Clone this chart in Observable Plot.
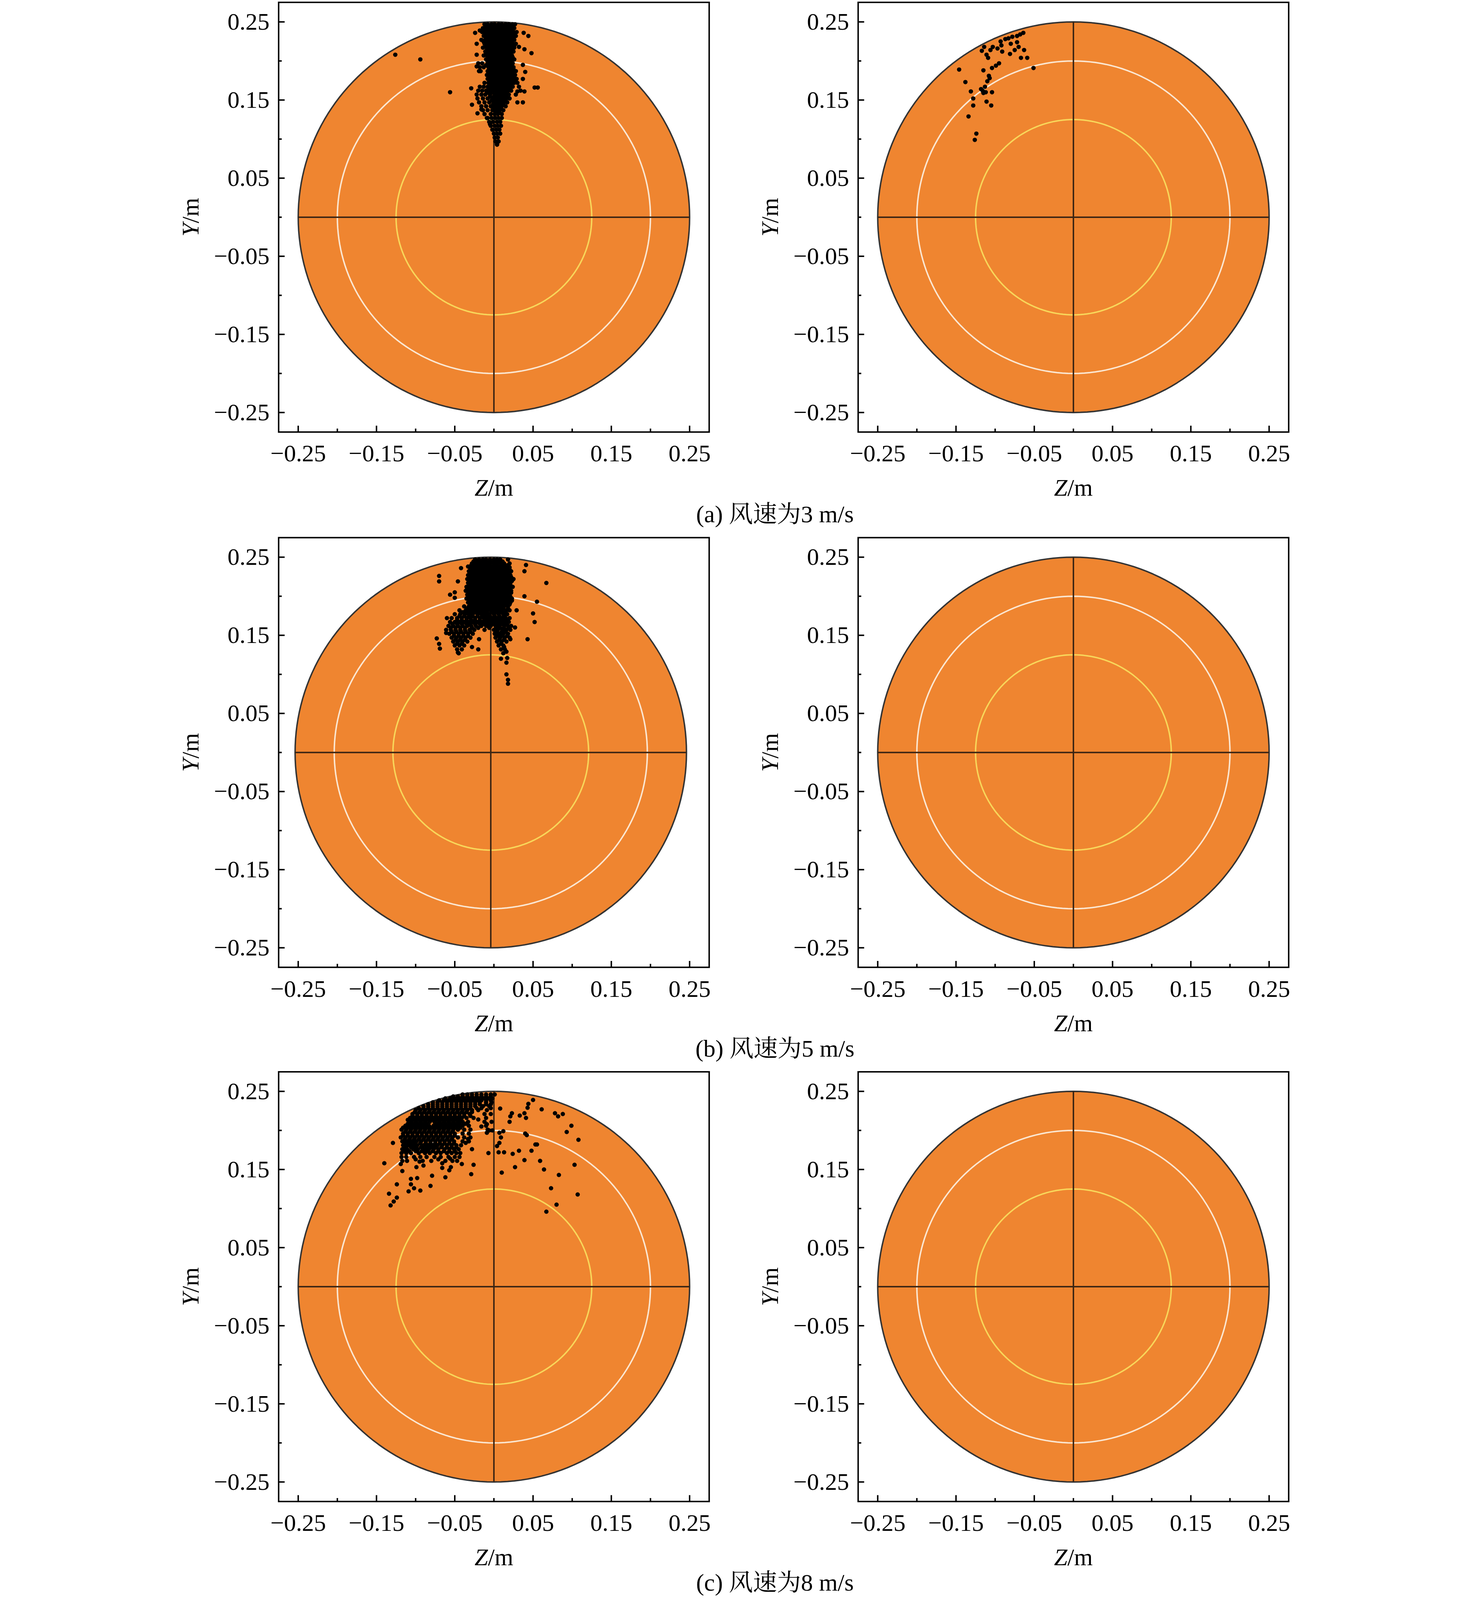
<!DOCTYPE html>
<html><head><meta charset="utf-8">
<script src="https://cdn.jsdelivr.net/npm/d3@7"></script>
<script src="https://cdn.jsdelivr.net/npm/@observablehq/plot@0.6"></script>
<style>
html,body{margin:0;padding:0;background:#fff;overflow:hidden;}
#page{position:absolute;left:0;top:0;width:3780px;height:4394px;transform-origin:50% 0;font-family:"Liberation Serif","Times New Roman",serif;}
.panel{position:absolute;}
.cap{position:absolute;font-size:66px;white-space:nowrap;transform:translate(-50%,-50%);z-index:5;font-family:"Liberation Serif","Noto Serif CJK SC","Noto Sans CJK SC",serif;color:#000;}
</style></head><body>
<div id="page"></div>
<script>
// ---- axes / rings / captions ----
const majorTicks = [-0.25,-0.15,-0.05,0.05,0.15,0.25];
const minorTicks = [-0.2,-0.1,0,0.1,0.2];
const ringRadii = [0.25, 0.2, 0.125];
const captions = ["(a) 风速为3 m/s","(b) 风速为5 m/s","(c) 风速为8 m/s"];
const centerZ = [0, 0, -0.004, 0, 0, 0];

// ---- (a) 3 m/s, left: scattered points [Z, Y] ----
const a1Scatter = [[-0.126,0.208],[-0.094,0.202],[-0.056,0.160],[0.038,0.236],[0.044,0.232],[-0.022,0.222],[0.032,0.218],[0.039,0.215],[0.048,0.210],[-0.022,0.208],[-0.024,0.236],[-0.018,0.239],[0.037,0.195],[0.040,0.186],[0.037,0.177],[0.052,0.166],[0.056,0.166],[-0.029,0.165],[0.030,0.147],[0.037,0.147],[-0.028,0.144],[-0.019,0.187],[-0.022,0.193],[0.030,0.161],[0.039,0.161],[-0.021,0.133],[-0.016,0.138],[-0.008,0.127],[-0.005,0.119],[0.004,0.093]];
// dense core, rows of [Y, [Z...]]
const a1Rows = [
[0.247,[-0.012,-0.008,-0.003,0.001,0.006,0.010,0.015,0.019,0.024,0.027]],
[0.2445,[-0.010,-0.006,-0.001,0.003,0.008,0.012,0.017,0.021,0.025]],
[0.242,[-0.014,-0.010,-0.005,-0.001,0.004,0.008,0.013,0.017,0.022,0.026]],
[0.2395,[-0.012,-0.008,-0.003,0.001,0.006,0.010,0.015,0.019,0.024]],
[0.237,[-0.015,-0.011,-0.006,-0.002,0.003,0.007,0.012,0.016,0.021,0.025,0.029]],
[0.2345,[-0.011,-0.006,-0.002,0.003,0.008,0.012,0.017,0.021,0.026]],
[0.232,[-0.013,-0.008,-0.004,0.001,0.005,0.010,0.014,0.019,0.023,0.028]],
[0.2295,[-0.010,-0.006,-0.001,0.004,0.008,0.013,0.017,0.022,0.025]],
[0.227,[-0.016,-0.011,-0.006,-0.002,0.003,0.007,0.012,0.016,0.021,0.026]],
[0.2245,[-0.013,-0.008,-0.004,0.001,0.005,0.010,0.014,0.019,0.023]],
[0.222,[-0.012,-0.008,-0.003,0.002,0.006,0.011,0.015,0.020,0.024,0.028]],
[0.2195,[-0.010,-0.006,-0.001,0.004,0.008,0.013,0.017,0.022,0.026]],
[0.217,[-0.014,-0.009,-0.005,0.000,0.004,0.009,0.013,0.018,0.022,0.026]],
[0.2145,[-0.009,-0.004,0.001,0.005,0.010,0.014,0.019,0.023]],
[0.212,[-0.011,-0.007,-0.002,0.003,0.007,0.012,0.016,0.021,0.025]],
[0.2095,[-0.010,-0.006,-0.001,0.003,0.008,0.012,0.017,0.021]],
[0.207,[-0.013,-0.009,-0.004,0.001,0.005,0.010,0.014,0.019,0.023]],
[0.2045,[-0.008,-0.003,0.002,0.006,0.011,0.015,0.020,0.024]],
[0.202,[-0.010,-0.006,-0.001,0.004,0.008,0.013,0.017,0.022,0.026]],
[0.1995,[-0.008,-0.004,0.001,0.005,0.010,0.014,0.019,0.022]],
[0.197,[-0.020,-0.015,-0.008,-0.003,0.002,0.006,0.011,0.015,0.020,0.024]],
[0.1945,[-0.010,-0.005,0.000,0.005,0.009,0.014,0.018,0.023]],
[0.192,[-0.018,-0.013,-0.007,-0.002,0.003,0.007,0.012,0.016,0.021,0.025]],
[0.1895,[-0.006,-0.001,0.003,0.008,0.012,0.017,0.021,0.025]],
[0.187,[-0.017,-0.008,-0.004,0.001,0.005,0.010,0.014,0.019,0.023,0.028]],
[0.1845,[-0.007,-0.002,0.002,0.007,0.011,0.016,0.020,0.024]],
[0.182,[-0.009,-0.005,0.000,0.004,0.009,0.013,0.018,0.022,0.027]],
[0.1795,[-0.006,-0.001,0.004,0.008,0.013,0.017,0.022,0.026]],
[0.177,[-0.008,-0.003,0.002,0.006,0.011,0.015,0.020,0.024,0.029]],
[0.1745,[-0.005,0.000,0.004,0.009,0.013,0.018,0.022,0.027]],
[0.172,[-0.012,-0.007,-0.002,0.003,0.007,0.012,0.016,0.021,0.026,0.030]],
[0.1695,[-0.005,0.000,0.004,0.008,0.013,0.017,0.022]],
[0.167,[-0.018,-0.013,-0.008,-0.003,0.001,0.006,0.010,0.015,0.019,0.024,0.032]],
[0.1645,[-0.006,-0.001,0.003,0.007,0.012,0.016,0.020]],
[0.162,[-0.020,-0.015,-0.010,-0.004,0.000,0.005,0.009,0.014,0.018,0.022,0.034]],
[0.1595,[-0.008,-0.002,0.004,0.008,0.013,0.017]],
[0.157,[-0.022,-0.016,-0.011,-0.005,0.002,0.006,0.011,0.015,0.019,0.028]],
[0.1545,[-0.005,0.000,0.005,0.010,0.014,0.018]],
[0.152,[-0.021,-0.014,-0.008,-0.002,0.003,0.007,0.012,0.016,0.020]],
[0.1495,[-0.003,0.002,0.006,0.011,0.015]],
[0.147,[-0.019,-0.012,-0.006,0.000,0.004,0.009,0.013,0.017]],
[0.1445,[-0.001,0.004,0.008,0.012]],
[0.142,[-0.016,-0.010,-0.004,0.001,0.006,0.010,0.015]],
[0.1395,[0.000,0.005,0.009]],
[0.137,[-0.014,-0.008,-0.002,0.003,0.007,0.012]],
[0.1345,[0.002,0.007]],
[0.132,[-0.012,-0.004,0.001,0.005,0.010]],
[0.127,[-0.009,-0.003,0.002,0.006,0.010]],
[0.122,[-0.006,-0.001,0.004,0.008]],
[0.117,[-0.004,0.001,0.005,0.009]],
[0.112,[-0.002,0.003,0.007]],
[0.107,[0.000,0.004,0.008]],
[0.102,[0.001,0.005]],
[0.097,[0.002,0.006]],
[0.093,[0.004]]
];

// ---- (a) 3 m/s, right ----
const a2Scatter = [[-0.064,0.236],[-0.068,0.234],[-0.072,0.232],[-0.078,0.231],[-0.083,0.229],[-0.087,0.228],[-0.093,0.225],[-0.092,0.220],[-0.097,0.216],[-0.103,0.218],[-0.106,0.214],[-0.114,0.218],[-0.117,0.213],[-0.111,0.208],[-0.109,0.204],[-0.091,0.212],[-0.080,0.222],[-0.072,0.224],[-0.070,0.218],[-0.075,0.214],[-0.063,0.214],[-0.081,0.209],[-0.067,0.204],[-0.059,0.204],[-0.051,0.191],[-0.146,0.189],[-0.115,0.188],[-0.104,0.191],[-0.099,0.194],[-0.095,0.197],[-0.107,0.178],[-0.110,0.174],[-0.108,0.181],[-0.138,0.173],[-0.113,0.167],[-0.118,0.164],[-0.115,0.159],[-0.112,0.160],[-0.116,0.162],[-0.131,0.161],[-0.104,0.160],[-0.128,0.152],[-0.128,0.143],[-0.111,0.148],[-0.105,0.143],[-0.134,0.129],[-0.124,0.107],[-0.126,0.099]];

// ---- (b) 5 m/s, left ----
const b1Scatter = [[-0.042,0.236],[-0.033,0.238],[-0.070,0.226],[-0.070,0.219],[-0.046,0.219],[0.041,0.240],[0.039,0.232],[0.067,0.217],[0.039,0.200],[0.055,0.193],[0.050,0.178],[0.052,0.167],[-0.073,0.146],[-0.070,0.139],[-0.069,0.133],[0.043,0.145],[0.027,0.160],[0.029,0.182],[-0.019,0.145],[-0.020,0.132],[-0.028,0.135],[-0.046,0.128],[-0.056,0.202],[-0.050,0.198],[-0.050,0.205],[-0.060,0.172],[-0.061,0.153],[0.009,0.120],[0.016,0.115],[0.017,0.121],[0.016,0.100],[0.018,0.093],[0.018,0.088],[0.013,0.135],[0.016,0.129],[0.021,0.145]];
const b1Rows = [
[0.247,[-0.024,-0.019,-0.014,-0.010,-0.005,0.000,0.004,0.008,0.018]],
[0.2445,[-0.026,-0.021,-0.016,-0.012,-0.007,-0.002,0.002,0.006,0.011]],
[0.242,[-0.028,-0.023,-0.018,-0.014,-0.009,-0.005,0.000,0.004,0.009,0.013,0.020]],
[0.2395,[-0.029,-0.024,-0.019,-0.015,-0.010,-0.005,0.000,0.004,0.009,0.013,0.017]],
[0.237,[-0.031,-0.026,-0.021,-0.016,-0.012,-0.007,-0.003,0.002,0.006,0.011,0.015,0.020]],
[0.2345,[-0.029,-0.025,-0.020,-0.016,-0.011,-0.007,-0.002,0.002,0.007,0.011,0.016,0.020]],
[0.232,[-0.032,-0.027,-0.023,-0.018,-0.014,-0.009,-0.005,0.000,0.004,0.009,0.013,0.018,0.022]],
[0.2295,[-0.030,-0.026,-0.021,-0.017,-0.012,-0.008,-0.003,0.001,0.006,0.010,0.015,0.019]],
[0.227,[-0.033,-0.028,-0.024,-0.019,-0.015,-0.010,-0.006,-0.001,0.003,0.008,0.012,0.017,0.021]],
[0.2245,[-0.031,-0.027,-0.022,-0.018,-0.013,-0.009,-0.004,0.000,0.005,0.009,0.014,0.018,0.022]],
[0.222,[-0.034,-0.029,-0.025,-0.020,-0.016,-0.011,-0.007,-0.002,0.002,0.007,0.011,0.016,0.020,0.025]],
[0.2195,[-0.031,-0.026,-0.022,-0.017,-0.013,-0.008,-0.004,0.001,0.005,0.010,0.014,0.019,0.023]],
[0.217,[-0.033,-0.028,-0.024,-0.019,-0.015,-0.010,-0.006,-0.001,0.003,0.008,0.012,0.017,0.021]],
[0.2145,[-0.032,-0.028,-0.023,-0.019,-0.014,-0.010,-0.005,-0.001,0.004,0.008,0.013,0.017,0.021]],
[0.212,[-0.035,-0.030,-0.026,-0.021,-0.017,-0.012,-0.008,-0.003,0.001,0.006,0.010,0.015,0.019,0.024]],
[0.2095,[-0.033,-0.029,-0.024,-0.020,-0.015,-0.011,-0.006,-0.002,0.003,0.007,0.012,0.016,0.020]],
[0.207,[-0.036,-0.031,-0.027,-0.022,-0.018,-0.013,-0.009,-0.004,0.000,0.005,0.009,0.014,0.018,0.022]],
[0.2045,[-0.032,-0.027,-0.023,-0.018,-0.014,-0.009,-0.005,0.000,0.004,0.009,0.013,0.018,0.022]],
[0.202,[-0.034,-0.029,-0.025,-0.020,-0.016,-0.011,-0.007,-0.002,0.002,0.007,0.011,0.016,0.020]],
[0.1995,[-0.032,-0.028,-0.023,-0.019,-0.014,-0.010,-0.005,-0.001,0.004,0.008,0.013,0.017,0.021]],
[0.197,[-0.035,-0.030,-0.026,-0.021,-0.017,-0.012,-0.008,-0.003,0.001,0.006,0.010,0.015,0.019,0.023]],
[0.1945,[-0.031,-0.026,-0.022,-0.017,-0.013,-0.008,-0.004,0.001,0.005,0.010,0.014,0.019,0.023]],
[0.192,[-0.033,-0.028,-0.024,-0.019,-0.015,-0.010,-0.006,-0.001,0.003,0.008,0.012,0.017,0.021]],
[0.1895,[-0.030,-0.025,-0.021,-0.016,-0.012,-0.007,-0.003,0.002,0.006,0.011,0.015,0.020]],
[0.187,[-0.038,-0.032,-0.027,-0.023,-0.018,-0.014,-0.009,-0.005,0.000,0.004,0.009,0.013,0.018]],
[0.1845,[-0.034,-0.029,-0.024,-0.020,-0.015,-0.011,-0.006,-0.002,0.003,0.007,0.012,0.018]],
[0.182,[-0.044,-0.036,-0.031,-0.026,-0.022,-0.017,-0.013,-0.008,-0.004,0.001,0.005,0.010,0.016,0.020]],
[0.1795,[-0.040,-0.034,-0.029,-0.024,-0.019,-0.014,-0.009,-0.003,0.003,0.009,0.014]],
[0.177,[-0.050,-0.043,-0.037,-0.032,-0.027,-0.021,-0.016,-0.011,-0.006,0.000,0.006,0.012,0.017]],
[0.1745,[-0.044,-0.038,-0.032,-0.027,-0.021,-0.015,-0.010,-0.005,0.001,0.007,0.013]],
[0.172,[-0.054,-0.047,-0.041,-0.035,-0.030,-0.024,-0.018,-0.013,-0.008,-0.002,0.004,0.010,0.015,0.020]],
[0.1695,[-0.047,-0.041,-0.035,-0.029,-0.024,-0.018,-0.012,-0.006,0.000,0.006,0.011,0.017]],
[0.167,[-0.056,-0.050,-0.044,-0.038,-0.032,-0.027,-0.021,-0.015,-0.009,-0.003,0.003,0.008,0.014,0.019]],
[0.1645,[-0.053,-0.047,-0.041,-0.035,-0.030,-0.024,-0.018,-0.013,-0.007,0.000,0.005,0.010,0.016]],
[0.162,[-0.058,-0.052,-0.046,-0.040,-0.034,-0.029,-0.023,-0.016,-0.010,-0.004,0.002,0.007,0.013,0.018,0.022]],
[0.1595,[-0.055,-0.049,-0.043,-0.037,-0.028,-0.020,-0.006,0.003,0.008,0.013,0.019]],
[0.157,[-0.061,-0.055,-0.049,-0.043,-0.037,-0.031,-0.025,-0.012,0.000,0.005,0.011,0.016,0.021]],
[0.1545,[-0.054,-0.048,-0.042,-0.036,-0.030,0.004,0.010,0.015]],
[0.152,[-0.057,-0.051,-0.045,-0.039,-0.033,-0.027,0.001,0.007,0.012,0.018]],
[0.1495,[-0.051,-0.045,-0.039,-0.033,0.005,0.011,0.017]],
[0.147,[-0.054,-0.048,-0.042,-0.036,-0.030,0.002,0.008,0.014,0.020]],
[0.1445,[-0.049,-0.043,-0.037,0.007,0.013]],
[0.142,[-0.052,-0.046,-0.040,-0.034,0.004,0.010,0.016]],
[0.1395,[-0.047,-0.041,0.009]],
[0.137,[-0.050,-0.044,-0.038,0.006,0.012]],
[0.132,[-0.047,-0.041,0.009,0.014]],
[0.127,[-0.045,0.012]]
];

// ---- (c) 8 m/s, left ----
const c1Scatter = [[-0.129,0.184],[-0.140,0.158],[-0.117,0.148],[-0.124,0.131],[-0.134,0.119],[-0.124,0.114],[-0.128,0.109],[-0.132,0.104],[-0.106,0.138],[-0.106,0.131],[-0.098,0.139],[-0.102,0.126],[-0.094,0.123],[-0.109,0.122],[-0.081,0.129],[-0.079,0.142],[-0.062,0.140],[-0.095,0.160],[-0.090,0.155],[-0.099,0.153],[-0.066,0.158],[-0.066,0.152],[-0.053,0.161],[-0.055,0.153],[-0.057,0.149],[-0.041,0.157],[-0.026,0.156],[-0.029,0.144],[-0.028,0.176],[-0.007,0.171],[0.006,0.172],[0.013,0.172],[0.010,0.146],[0.024,0.170],[0.032,0.174],[0.048,0.174],[0.039,0.162],[0.059,0.161],[0.027,0.153],[0.064,0.150],[0.053,0.182],[0.055,0.182],[0.103,0.156],[0.083,0.143],[0.073,0.126],[0.107,0.118],[0.080,0.105],[0.067,0.096],[0.108,0.188],[0.093,0.198],[0.099,0.206],[0.078,0.222],[0.082,0.218],[0.088,0.221],[0.061,0.227],[0.050,0.239],[0.044,0.234],[0.043,0.229],[0.039,0.222],[0.033,0.219],[0.041,0.216],[0.023,0.222],[0.021,0.218],[0.020,0.211],[0.008,0.228],[0.040,0.196],[0.042,0.194],[0.007,0.197],[0.009,0.191],[0.007,0.184],[0.004,0.180],[0.012,0.199],[-0.006,0.200],[-0.002,0.200],[-0.009,0.208],[-0.009,0.197],[-0.100,0.163],[-0.091,0.161],[-0.071,0.163],[-0.056,0.164],[-0.036,0.184],[-0.033,0.189],[-0.020,0.214],[-0.016,0.205]];
const c1Rows = [
[0.246,[-0.040,-0.034,-0.028,-0.022,-0.016,-0.010,-0.004,0.001]],
[0.2435,[-0.052,-0.046,-0.040,-0.034,-0.028,-0.022,-0.016,-0.010,-0.004]],
[0.241,[-0.062,-0.056,-0.050,-0.044,-0.038,-0.032,-0.026,-0.020,-0.014,-0.008,-0.002]],
[0.2385,[-0.070,-0.064,-0.058,-0.052,-0.046,-0.040,-0.034,-0.028,-0.022,-0.016,-0.010,-0.004]],
[0.236,[-0.078,-0.072,-0.066,-0.060,-0.054,-0.048,-0.042,-0.036,-0.030,-0.024,-0.018,-0.010,-0.003]],
[0.2335,[-0.084,-0.078,-0.072,-0.066,-0.060,-0.054,-0.048,-0.042,-0.036,-0.030,-0.024,-0.018,-0.010,-0.004]],
[0.231,[-0.090,-0.084,-0.078,-0.072,-0.066,-0.060,-0.054,-0.048,-0.042,-0.036,-0.030,-0.024,-0.014,-0.006]],
[0.2285,[-0.096,-0.090,-0.084,-0.078,-0.072,-0.066,-0.060,-0.054,-0.048,-0.042,-0.036,-0.030,-0.022,-0.016,-0.004]],
[0.226,[-0.100,-0.094,-0.088,-0.082,-0.076,-0.070,-0.064,-0.058,-0.052,-0.046,-0.040,-0.034,-0.028,-0.020,-0.009]],
[0.2235,[-0.101,-0.095,-0.089,-0.083,-0.077,-0.071,-0.065,-0.059,-0.053,-0.047,-0.041,-0.035,-0.028]],
[0.221,[-0.104,-0.098,-0.092,-0.086,-0.080,-0.074,-0.068,-0.062,-0.056,-0.050,-0.044,-0.038,-0.031,-0.012,-0.004]],
[0.2185,[-0.104,-0.098,-0.092,-0.086,-0.080,-0.074,-0.068,-0.062,-0.056,-0.050,-0.044,-0.038,-0.030]],
[0.216,[-0.107,-0.101,-0.095,-0.089,-0.083,-0.077,-0.071,-0.065,-0.059,-0.053,-0.047,-0.041,-0.035,-0.026,-0.010]],
[0.2135,[-0.110,-0.104,-0.098,-0.092,-0.086,-0.080,-0.074,-0.068,-0.062,-0.056,-0.050,-0.043]],
[0.211,[-0.106,-0.100,-0.094,-0.088,-0.082,-0.076,-0.070,-0.064,-0.058,-0.052,-0.046,-0.040,-0.033,-0.012,-0.003]],
[0.2085,[-0.110,-0.104,-0.098,-0.092,-0.086,-0.074,-0.068,-0.062,-0.056,-0.050,-0.044,-0.036]],
[0.206,[-0.113,-0.107,-0.101,-0.095,-0.089,-0.083,-0.077,-0.071,-0.065,-0.059,-0.053,-0.047,-0.040,-0.032,-0.010]],
[0.2035,[-0.116,-0.110,-0.104,-0.098,-0.092,-0.086,-0.080,-0.074,-0.068,-0.062,-0.056,-0.050,-0.043]],
[0.201,[-0.118,-0.112,-0.106,-0.100,-0.094,-0.088,-0.082,-0.076,-0.070,-0.064,-0.058,-0.052,-0.046,-0.038,-0.030,-0.008]],
[0.1985,[-0.113,-0.107,-0.101,-0.095,-0.089,-0.083,-0.077,-0.071,-0.065,-0.059,-0.053]],
[0.196,[-0.116,-0.110,-0.104,-0.098,-0.092,-0.086,-0.080,-0.074,-0.068,-0.062,-0.056,-0.050,-0.040,-0.032]],
[0.1935,[-0.116,-0.110,-0.104,-0.098,-0.092,-0.086,-0.080,-0.074,-0.068,-0.062,-0.056,-0.050]],
[0.191,[-0.119,-0.113,-0.107,-0.101,-0.095,-0.089,-0.083,-0.077,-0.071,-0.065,-0.059,-0.053,-0.046,-0.038,-0.030]],
[0.1885,[-0.114,-0.108,-0.102,-0.096,-0.090,-0.084,-0.078,-0.072,-0.066,-0.060,-0.054]],
[0.186,[-0.117,-0.111,-0.105,-0.099,-0.093,-0.087,-0.081,-0.075,-0.069,-0.063,-0.057,-0.051,-0.040,-0.032]],
[0.1835,[-0.113,-0.107,-0.101,-0.094,-0.087,-0.081,-0.075,-0.069,-0.063,-0.057,-0.051]],
[0.181,[-0.116,-0.110,-0.104,-0.098,-0.090,-0.084,-0.078,-0.072,-0.066,-0.060,-0.054,-0.048,-0.042]],
[0.1785,[-0.114,-0.106,-0.100,-0.093,-0.086,-0.080,-0.074,-0.067,-0.060,-0.054,-0.048]],
[0.176,[-0.117,-0.111,-0.103,-0.097,-0.089,-0.083,-0.077,-0.071,-0.063,-0.057,-0.051,-0.045]],
[0.1735,[-0.115,-0.108,-0.100,-0.092,-0.085,-0.078,-0.071,-0.064,-0.057,-0.050]],
[0.171,[-0.118,-0.112,-0.106,-0.096,-0.088,-0.082,-0.074,-0.068,-0.060,-0.054,-0.048,-0.043]],
[0.166,[-0.118,-0.112,-0.102,-0.094,-0.086,-0.076,-0.068,-0.058,-0.050,-0.044]],
[0.161,[-0.117,-0.111,-0.080,-0.062,-0.047]],
[0.157,[-0.119]]
];

const fromRows = rows => rows.flatMap(([y, zs]) => zs.map(z => [z, y]));
const panelPoints = [
  a1Scatter.concat(fromRows(a1Rows)),
  a2Scatter,
  b1Scatter.concat(fromRows(b1Rows)),
  [],
  c1Scatter.concat(fromRows(c1Rows)),
  []
];

// ---- layout (in reference pixels; the page is scaled to fit the window) ----
const PAGE_W = 3780, PAGE_H = 4394;
const FRAME_W = 1182, FRAME_H = 1180;
const ML = 330, MR = 10, MT = 6, MB = 200;
const colLeft = [627 - ML, 2218 - ML];
const rowTop = [6 - MT, 1476 - MT, 2943 - MT];
const capY = [1406, 2873, 4340];
const capX = 1990;

const page = document.getElementById("page");
const fitScale = Math.min(1, window.innerHeight / PAGE_H, window.innerWidth / PAGE_W);
page.style.left = ((window.innerWidth - PAGE_W) / 2) + "px";
page.style.transform = `scale(${fitScale})`;

const fmt = v => d3.format(".2f")(v).replace("-", "\u2212");
const circle = (cx, r) => d3.range(0, 361, 2).map(a => [cx + r * Math.cos(a * Math.PI / 180), r * Math.sin(a * Math.PI / 180)]);
const ringStyle = [
  {fill: "#EF8530", stroke: "#333333", strokeWidth: 4},
  {fill: "none", stroke: "#FBE7D2", strokeWidth: 4},
  {fill: "none", stroke: "#F8D65A", strokeWidth: 4}
];
const FONT = "Liberation Serif, Times New Roman, serif";

function makePanel(i) {
  const cx = centerZ[i];
  const pts = panelPoints[i];
  const svg = Plot.plot({
    width: ML + FRAME_W + MR,
    height: MT + FRAME_H + MB,
    marginLeft: ML, marginRight: MR, marginTop: MT, marginBottom: MB,
    x: {domain: [-0.275, 0.275], label: null},
    y: {domain: [-0.275, 0.275], label: null},
    style: {fontFamily: FONT, fontSize: "66px", background: "transparent", maxWidth: "none", overflow: "visible", color: "black"},
    marks: [
      ...ringRadii.map((r, k) => Plot.line(circle(cx, r), {x: d => d[0], y: d => d[1], ...ringStyle[k]})),
      Plot.ruleY([0], {x1: cx - ringRadii[0], x2: cx + ringRadii[0], stroke: "#3a2413", strokeWidth: 4}),
      Plot.ruleX([cx], {y1: -ringRadii[0], y2: ringRadii[0], stroke: "#3a2413", strokeWidth: 4}),
      Plot.dot(pts, {x: d => d[0], y: d => d[1], r: 6, fill: "black", stroke: null}),
      Plot.frame({stroke: "black", strokeWidth: 4}),
      Plot.axisX(majorTicks, {anchor: "bottom", tickSize: -17, tickPadding: 51, tickFormat: fmt, fontSize: 66, strokeWidth: 4, label: null}),
      Plot.axisX(minorTicks, {anchor: "bottom", tickSize: -9, tickFormat: () => "", strokeWidth: 4, label: null}),
      Plot.axisY(majorTicks, {anchor: "left", tickSize: -17, tickPadding: 42, tickFormat: fmt, fontSize: 66, strokeWidth: 4, label: null}),
      Plot.axisY(minorTicks, {anchor: "left", tickSize: -9, tickFormat: () => "", strokeWidth: 4, label: null}),
      Plot.text(["Z/m"], {frameAnchor: "bottom", dy: 154, textAnchor: "middle", lineAnchor: "middle", fontSize: 66}),
      Plot.text(["Y/m"], {frameAnchor: "left", dx: -241, rotate: -90, textAnchor: "middle", lineAnchor: "middle", fontSize: 66})
    ]
  });
  svg.querySelectorAll("text").forEach(t => {
    const s = t.textContent;
    if (s === "Z/m" || s === "Y/m") {
      t.innerHTML = `<tspan font-style="italic">${s[0]}</tspan>/m`;
    }
  });
  const div = document.createElement("div");
  div.className = "panel";
  div.style.left = colLeft[i % 2] + "px";
  div.style.top = rowTop[Math.floor(i / 2)] + "px";
  div.appendChild(svg);
  page.appendChild(div);
}
for (let i = 0; i < 6; i++) makePanel(i);
captions.forEach((c, k) => {
  const d = document.createElement("div");
  d.className = "cap";
  d.style.left = capX + "px";
  d.style.top = capY[k] + "px";
  d.textContent = c;
  page.appendChild(d);
});
</script>
</body></html>
